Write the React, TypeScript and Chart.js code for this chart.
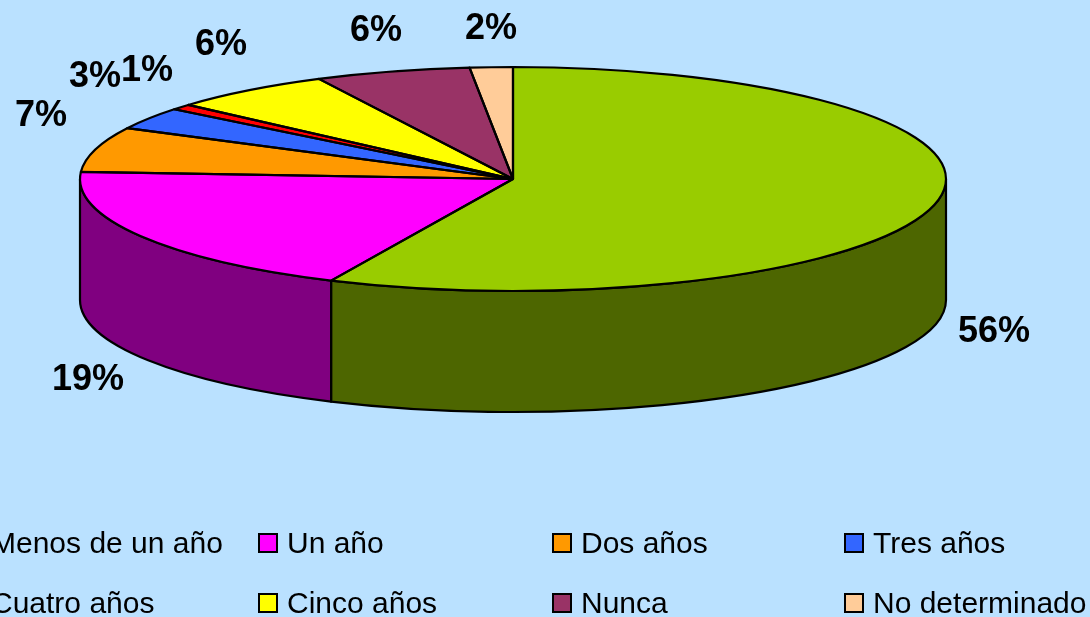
import React, { useEffect, useRef } from "react";
import { Chart, registerables } from "chart.js";

Chart.register(...registerables);

const categories = ["Menos de un año", "Un año", "Dos años", "Tres años", "Cuatro años", "Cinco años", "Nunca", "No determinado"];
const sliceValues = [56.9, 19.1, 6.5, 3.2, 0.8, 6.1, 5.8, 1.6];
const percentLabels = ["56%", "19%", "7%", "3%", "1%", "6%", "6%", "2%"];
const topColors = ["#99CC00", "#FF00FF", "#FF9900", "#3366FF", "#FF0000", "#FFFF00", "#993366", "#FFCC99"];
const wallColors = ["#4D6600", "#800080", "#804D00", "#1A3380", "#800000", "#808000", "#4D1A33", "#80664D"];

const W = 1090;
const H = 617;
const CX = 513;
const CY = 179;
const RX = 433;
const RY = 112;
const DEPTH = 121;
const SQUASH = RY / RX;
const INK = "#000000";
const BG = "#BAE1FF";
const LINE = 2.2;
const labelAnchors = [[994, 332], [88, 380], [41, 116], [95, 77], [147, 71], [221, 45], [376, 31], [491, 29]];
const legendCols = [-9, 287, 581, 873];
const legendRows = [545, 605];

const pie3d = {
  id: "pie3d",
  beforeDatasetsDraw(chart: any) {
    const ctx = chart.ctx;
    const arcs = chart.getDatasetMeta(0).data;
    ctx.save();
    ctx.lineWidth = LINE;
    ctx.strokeStyle = INK;
    ctx.lineJoin = "round";
    arcs.forEach((arc: any, i: number) => {
      const a = Math.max(arc.startAngle, 0);
      const b = Math.min(arc.endAngle, Math.PI);
      if (b <= a) return;
      ctx.beginPath();
      ctx.ellipse(CX, CY, RX, RY, 0, a, b);
      ctx.ellipse(CX, CY + DEPTH, RX, RY, 0, b, a, true);
      ctx.closePath();
      ctx.fillStyle = wallColors[i];
      ctx.fill();
      ctx.stroke();
    });
    ctx.restore();
  },
  beforeDatasetDraw(chart: any) {
    const ctx = chart.ctx;
    ctx.save();
    ctx.translate(CX, CY);
    ctx.scale(1, SQUASH);
    ctx.translate(-CX, -CY);
  },
  afterDatasetDraw(chart: any) {
    const ctx = chart.ctx;
    ctx.restore();
    const arcs = chart.getDatasetMeta(0).data;
    ctx.save();
    ctx.lineWidth = LINE;
    ctx.strokeStyle = INK;
    ctx.lineJoin = "round";
    arcs.forEach((arc: any) => {
      ctx.beginPath();
      ctx.moveTo(CX, CY);
      ctx.ellipse(CX, CY, RX, RY, 0, arc.startAngle, arc.endAngle);
      ctx.closePath();
      ctx.stroke();
    });
    ctx.restore();
  },
  afterDraw(chart: any) {
    const ctx = chart.ctx;
    ctx.save();
    ctx.fillStyle = INK;
    ctx.textAlign = "center";
    ctx.textBaseline = "middle";
    ctx.font = 'bold 36px "Liberation Sans", Arial, sans-serif';
    percentLabels.forEach((t, i) => {
      ctx.fillText(t, labelAnchors[i][0], labelAnchors[i][1]);
    });
    ctx.textAlign = "left";
    ctx.font = '30px "Liberation Sans", Arial, sans-serif';
    categories.forEach((name, i) => {
      const col = legendCols[i % 4];
      const row = legendRows[Math.floor(i / 4)];
      ctx.fillStyle = topColors[i];
      ctx.strokeStyle = INK;
      ctx.lineWidth = 2;
      ctx.fillRect(col - 28, row - 11, 18, 18);
      ctx.strokeRect(col - 28, row - 11, 18, 18);
      ctx.fillStyle = INK;
      ctx.fillText(name, col, row);
    });
    ctx.restore();
  },
};

export default function App() {
  const ref = useRef<HTMLCanvasElement>(null);
  useEffect(() => {
    document.body.style.margin = "0";
    document.body.style.background = BG;
    const chart = new Chart(ref.current as HTMLCanvasElement, {
      type: "pie",
      plugins: [pie3d],
      data: {
        labels: categories,
        datasets: [
          {
            data: sliceValues,
            backgroundColor: topColors,
            borderWidth: 0,
            hoverOffset: 0,
            clip: false,
          } as any,
        ],
      },
      options: {
        animation: false,
        responsive: false,
        radius: RX,
        layout: { padding: { left: 0, top: 0, right: W - 2 * CX, bottom: H - 2 * CY } },
        plugins: { legend: { display: false }, tooltip: { enabled: false } },
      } as any,
    });
    return () => chart.destroy();
  }, []);
  return (
    <div style={{ position: "fixed", left: 0, top: 0, width: W, height: H, background: BG, overflow: "hidden" }}>
      <canvas ref={ref} width={W} height={H} style={{ display: "block" }} />
    </div>
  );
}
